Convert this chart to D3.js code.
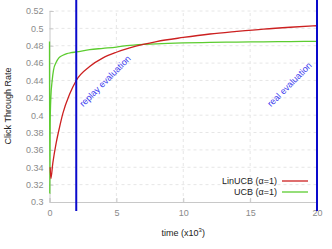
<!DOCTYPE html>
<html><head><meta charset="utf-8">
<script src="https://cdn.jsdelivr.net/npm/d3@7/dist/d3.min.js"></script>
<style>body{margin:0;background:#fff}svg{display:block}text{font-family:"Liberation Sans",Arial,sans-serif}</style>
</head><body>
<svg id="c" width="332" height="249"></svg>
<script>
const xTicks = [0, 5, 10, 15, 20];
const yTicks = [0.3, 0.32, 0.34, 0.36, 0.38, 0.4, 0.42, 0.44, 0.46, 0.48, 0.5, 0.52];
const linT = [0.05, 0.1, 0.25, 0.5, 0.75, 1, 1.5, 2, 3, 4, 5, 6, 7, 8, 10, 12, 14, 16, 18, 20];
const linV = [0.34, 0.327, 0.345, 0.368, 0.386, 0.402, 0.424, 0.44, 0.456, 0.466, 0.4725, 0.4775, 0.4815, 0.4848, 0.4895, 0.4935, 0.4965, 0.4992, 0.5013, 0.503];
const ucbT = [0, 0.02, 0.05, 0.1, 0.2, 0.3, 0.5, 0.7, 1, 1.3, 1.6, 2, 3, 4, 5, 6, 8, 10, 12, 14, 16, 18, 20];
const ucbV = [0.485, 0.31, 0.39, 0.42, 0.44, 0.452, 0.461, 0.466, 0.469, 0.471, 0.472, 0.4728, 0.4755, 0.477, 0.4785, 0.4805, 0.4822, 0.4832, 0.4838, 0.4842, 0.4845, 0.4848, 0.485];
const markers = [{t: 2, label: "replay evaluation"}, {t: 20, label: "real evaluation"}];
const seriesNames = ["LinUCB (\u03b1=1)", "UCB (\u03b1=1)"];
const seriesColors = ["#cc2020", "#5ccc30"];

const svg = d3.select("#c");
const x = d3.scaleLinear().domain([0, 20]).range([49.5, 317]);
const y = d3.scaleLinear().domain([0.3, 0.52]).range([202, 11]);

// grid
svg.append("g").selectAll("line").data(yTicks.slice(1)).join("line")
  .attr("x1", x(0)).attr("x2", x(20)).attr("y1", d => y(d)).attr("y2", d => y(d))
  .attr("stroke", "#e6e6e6").attr("stroke-width", 1).attr("stroke-dasharray", "3,3");
svg.append("g").selectAll("line").data(xTicks.slice(1)).join("line")
  .attr("x1", d => x(d)).attr("x2", d => x(d)).attr("y1", y(0.3)).attr("y2", y(0.52))
  .attr("stroke", "#e6e6e6").attr("stroke-width", 1).attr("stroke-dasharray", "3,3");

// axes
const ax = svg.append("g").attr("transform", `translate(0,${y(0.3)})`)
  .call(d3.axisBottom(x).tickValues(xTicks).tickSize(-4).tickPadding(8).tickFormat(d3.format("d")));
const ay = svg.append("g").attr("transform", `translate(${x(0)},0)`)
  .call(d3.axisLeft(y).tickValues(yTicks).tickSize(-4).tickPadding(6).tickFormat(d => d3.format("")(+d.toFixed(2))));
[ax, ay].forEach(a => {
  a.select(".domain").attr("stroke", "#c8c8c8");
  a.selectAll(".tick line").attr("stroke", "#c8c8c8");
  a.selectAll(".tick text").attr("fill", "#8a8a8a").style("font-size", "9px");
});

// lines
const line = d3.line().x(d => x(d[0])).y(d => y(d[1])).curve(d3.curveMonotoneX);
svg.append("path").datum(ucbT.map((t, i) => [t, ucbV[i]]))
  .attr("d", line).attr("fill", "none").attr("stroke", seriesColors[1]).attr("stroke-width", 1.3);
svg.append("path").datum(linT.map((t, i) => [t, linV[i]]))
  .attr("d", line).attr("fill", "none").attr("stroke", seriesColors[0]).attr("stroke-width", 1.3);

// markers
svg.append("g").selectAll("line").data(markers).join("line")
  .attr("x1", d => x(d.t)).attr("x2", d => x(d.t)).attr("y1", 0).attr("y2", 211)
  .attr("stroke", "#0a0acc").attr("stroke-width", 2);
svg.append("text").attr("transform", `translate(${x(2) + 7},${y(0.409)}) rotate(-45)`)
  .attr("fill", "#3a3aee").style("font-size", "9px").text(markers[0].label);
svg.append("text").attr("transform", `translate(${x(20) - 46},${y(0.409)}) rotate(-45)`)
  .attr("fill", "#3a3aee").style("font-size", "9px").text(markers[1].label);

// axis titles
svg.append("text").attr("x", x(10)).attr("y", 236).attr("text-anchor", "middle")
  .attr("fill", "#222").style("font-size", "9px")
  .html('time (x10<tspan dy="-4" font-size="6px">3</tspan><tspan dy="4">)</tspan>');
svg.append("text").attr("transform", `translate(11,106) rotate(-90)`).attr("text-anchor", "middle")
  .attr("fill", "#222").style("font-size", "9px").text("Click Through Rate");

// legend
const lg = svg.append("g").selectAll("g").data(seriesNames).join("g")
  .attr("transform", (d, i) => `translate(0,${181 + i * 11})`);
lg.append("text").attr("x", 277).attr("y", 3).attr("text-anchor", "end")
  .attr("fill", "#222").style("font-size", "9px").text(d => d);
lg.append("line").attr("x1", 282).attr("x2", 308).attr("y1", 0).attr("y2", 0)
  .attr("stroke", (d, i) => seriesColors[i]).attr("stroke-width", 1.3);
</script>
</body></html>
